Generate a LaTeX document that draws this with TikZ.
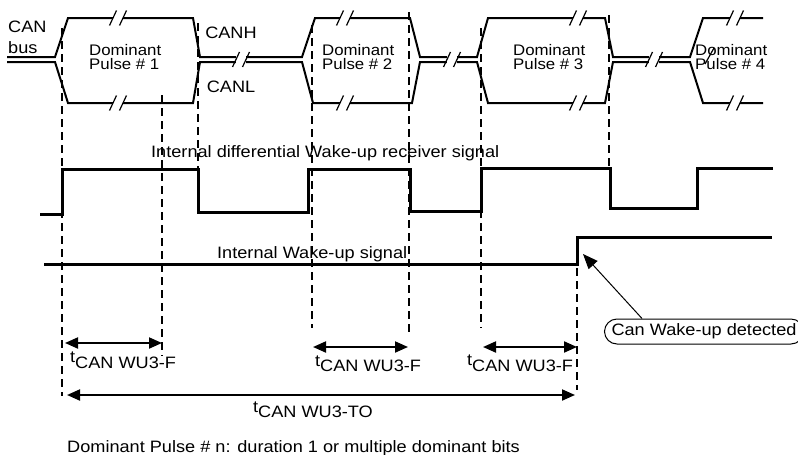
\documentclass[tikz,border=0pt]{standalone}
\usepackage{fontspec}
\setmainfont{Liberation Sans}[FakeStretch=1.1]
\usepackage{tikz}
\usetikzlibrary{arrows.meta,calc}
\newcommand{\tcan}[1]{t\raisebox{-5.5pt}{CAN WU3-#1}}
\newcommand{\busbreak}[2]{%
  \fill[white] (#1-5,#2-4.5) rectangle (#1+5,#2+4.5);
  \draw[line width=1.2pt] (#1-8.5,#2+7.5) -- (#1-1.5,#2-7.5);
  \draw[line width=1.2pt] (#1+1.5,#2+7.5) -- (#1+8.5,#2-7.5);
}

\begin{document}
\begin{tikzpicture}[x=1pt, y=-1pt,
  every node/.style={font=\fontsize{16.5}{18}\selectfont, inner sep=0pt},
  bus/.style={line width=2pt},
  sig/.style={line width=3pt},
  marker/.style={line width=2pt, dash pattern=on 8pt off 5pt},
  dim/.style={line width=2pt, {Triangle[length=13pt,width=11pt]}-{Triangle[length=13pt,width=11pt]}},
  callout/.style={line width=1pt, -{Triangle[length=15pt,width=12pt]}},
  pulselbl/.style={font=\fontsize{15.3}{16}\selectfont, anchor=base west},
  bubble/.style={draw, line width=1pt, rounded corners=12.5pt, minimum height=25pt, inner xsep=7pt, anchor=west},
]
\useasboundingbox (0,0) rectangle (798,455);

% ---------------- dashed markers ----------------
\foreach \x/\ya/\yb in {62/28/396, 162/95/356, 198/23/169, 312/25/328, 409/12/333, 481/28/328, 609/15/168, 577/268/390}
  \draw[marker] (\x,\ya) -- (\x,\yb);

% ---------------- CAN bus (CANH / CANL) ----------------
\draw[bus] (7,57) -- (55,57) -- (68,18) -- (193,18) -- (200,57) -- (302,57) -- (315,18) -- (410,18) -- (420,57)
  -- (477,57) -- (488,18) -- (605,18) -- (613,57) -- (690,57) -- (703,18) -- (763,18);
\draw[bus] (7,62) -- (55,62) -- (68,103) -- (193,103) -- (200,62) -- (302,62) -- (313,103) -- (412,103) -- (420,62)
  -- (477,62) -- (488,103) -- (605,103) -- (613,62) -- (690,62) -- (703,103) -- (763,103);

% time breaks
\foreach \x/\y in {118/18, 118/103, 345/18, 345/103, 578/18, 578/103, 735/18, 735/103, 241/59.5, 452/59.5, 654/59.5}
  \busbreak{\x}{\y};
\draw[line width=1.2pt] (705,64) -- (714,48);

% ---------------- internal signals ----------------
\draw[sig] (40,214) -- (62,214) -- (62,169) -- (198,169) -- (198,212) -- (308,212) -- (308,169) -- (410,169)
  -- (410,211) -- (481,211) -- (481,168) -- (610,168) -- (610,208) -- (697,208) -- (697,168) -- (773,168);
\draw[sig] (44,264) -- (577,264) -- (577,237) -- (772,237);

% ---------------- labels ----------------
\node[anchor=base west] (can) at (8,32) {CAN};
\node[anchor=base west] (bus) at (8,53) {bus};
\node (canh) at (231,33) {CANH};
\node (canl) at (231,87) {CANL};
\foreach \i/\x in {1/89, 2/322, 3/513, 4/695}{
  \node[pulselbl] (dom\i) at (\x,55.7) {Dominant};
  \node[pulselbl] (pul\i) at (\x,69.3) {Pulse \# \i};
}
\node[anchor=base west] (rxlbl) at (151,157) {Internal differential Wake-up receiver signal};
\node[anchor=base west] (wulbl) at (217,258) {Internal Wake-up signal};

% ---------------- timings ----------------
\coordinate (f1a) at (65,343);  \coordinate (f1b) at (162,343);
\coordinate (f2a) at (313,347); \coordinate (f2b) at (408,347);
\coordinate (f3a) at (483,347); \coordinate (f3b) at (577,347);
\coordinate (toa) at (67,395);  \coordinate (tob) at (575,395);
\draw[dim] (f1a) -- (f1b);
\draw[dim] (f2a) -- (f2b);
\draw[dim] (f3a) -- (f3b);
\draw[dim] (toa) -- (tob);
\node[anchor=base west] (tf1) at (70,362.5) {\tcan{F}};
\node[anchor=base west] (tf2) at (315,366) {\tcan{F}};
\node[anchor=base west] (tf3) at (467,365.5) {\tcan{F}};
\node[anchor=base west] (tto) at (253,412) {\tcan{TO}};

% ---------------- wake-up callout ----------------
\node[bubble] (wububble) at (604,331.5) {Can Wake-up detected};
\coordinate (wurise) at (583,254);
\draw[callout] ([xshift=38pt]wububble.north west) -- (wurise);

\node[anchor=base west] (note) at (67,452.5) {Dominant Pulse \# n: duration 1 or multiple dominant bits};
\end{tikzpicture}
\end{document}
